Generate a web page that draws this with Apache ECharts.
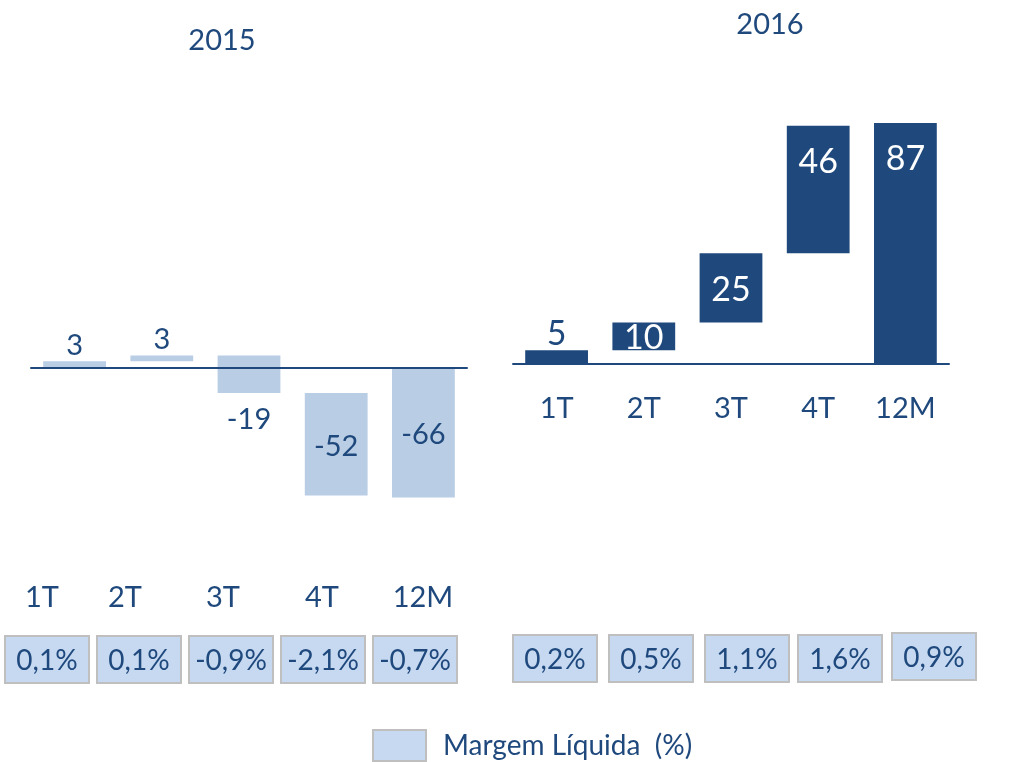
<!DOCTYPE html>
<html>
<head>
<meta charset="utf-8">
<script src="https://cdn.jsdelivr.net/npm/echarts@6/dist/echarts.min.js"></script>
<style>
html,body{margin:0;padding:0;background:#fff;}
#c{width:1017px;height:762px;}
</style>
</head>
<body>
<div id="c"></div>
<script>
// ---- data ----
const categories = ['1T', '2T', '3T', '4T', '12M'];
const years = ['2015', '2016'];
const values2015 = [3, 3, -19, -52, -66];
const values2016 = [5, 10, 25, 46, 87];
const margin2015 = [0.1, 0.1, -0.9, -2.1, -0.7];
const margin2016 = [0.2, 0.5, 1.1, 1.6, 0.9];
const legendName = 'Margem Líquida  (%)';

// ---- styles / layout ----
const DARK = '#1F497D';
const LIGHT = '#B9CDE5';
const BOX = '#C6D9F1';
const FONT = 'Lato';
const labelPlace2015 = ['above', 'above', 'below', 'middle', 'middle'];
const labelPlace2016 = ['above', 'middle', 'middle', 'top', 'top'];
const labelColor2015 = [DARK, DARK, DARK, DARK, DARK];
const labelColor2016 = [DARK, '#fff', '#fff', '#fff', '#fff'];
const cat2015X = [42, 125, 223, 322, 423];
const box2015X = [5, 97, 189, 281, 373];
const box2016X = [513, 609, 705, 798, 892];
const box2016Y = [635, 635, 635, 635, 633];

// waterfall: quarters accumulate, last category is the total from 0
function waterfall(vals) {
  const out = [];
  let acc = 0;
  vals.forEach((v, i) => {
    if (i === vals.length - 1) {
      out.push([i, 0, v]);
    } else {
      out.push([i, acc, acc + v]);
      acc += v;
    }
  });
  return out;
}

function makeRender(color, places, labelColors, fontSize, vals) {
  return function (params, api) {
    const i = api.value(0), s = api.value(1), e = api.value(2);
    const p1 = api.coord([i, s]);
    const p2 = api.coord([i, e]);
    const w = api.size([1, 0])[0] * 0.72;
    const top = Math.min(p1[1], p2[1]);
    const bot = Math.max(p1[1], p2[1]);
    const place = places[i];
    let ty;
    if (place === 'above') ty = top - 16;
    else if (place === 'below') ty = bot + 27;
    else if (place === 'top') ty = top + 36;
    else ty = (top + bot) / 2 + 2;
    return {
      type: 'group',
      children: [
        { type: 'rect', shape: { x: p1[0] - w / 2, y: top, width: w, height: bot - top }, style: { fill: color } },
        { type: 'text', z2: 10, style: { text: String(vals[i]), x: p1[0], y: ty, fill: labelColors[i], fontSize: fontSize, fontFamily: FONT, align: 'center', verticalAlign: 'middle' } }
      ]
    };
  };
}

function fmtPct(v) { return v.toFixed(1).replace('.', ',') + '%'; }

const graphics = [];
categories.forEach((c, i) => {
  graphics.push({ type: 'text', x: cat2015X[i], y: 598, style: { text: c, fill: DARK, fontSize: 29, fontFamily: FONT, align: 'center', verticalAlign: 'middle' } });
});
function boxes(xs, ys, vals) {
  vals.forEach((v, i) => {
    graphics.push({
      type: 'group', x: xs[i], y: ys[i],
      children: [
        { type: 'rect', shape: { x: 0, y: 0, width: 84, height: 47 }, style: { fill: BOX, stroke: '#BFBFBF', lineWidth: 2 } },
        { type: 'text', style: { text: fmtPct(v), x: 42, y: 25, fill: DARK, fontSize: 28, fontFamily: FONT, align: 'center', verticalAlign: 'middle' } }
      ]
    });
  });
}
boxes(box2015X, [636, 636, 636, 636, 636], margin2015);
boxes(box2016X, box2016Y, margin2016);

const chart = echarts.init(document.getElementById('c'), null, { renderer: 'canvas' });
chart.setOption({
  animation: false,
  backgroundColor: '#fff',
  textStyle: { fontFamily: FONT },
  title: [
    { text: years[0], left: 217, top: 21, textAlign: 'center', textStyle: { color: DARK, fontSize: 29, fontWeight: 'normal', fontFamily: FONT } },
    { text: years[1], left: 765, top: 5, textAlign: 'center', textStyle: { color: DARK, fontSize: 29, fontWeight: 'normal', fontFamily: FONT } }
  ],
  legend: {
    left: 372, top: 729, padding: 0, itemWidth: 53, itemHeight: 31, icon: 'rect',
    data: [legendName],
    textStyle: { color: DARK, fontSize: 28, fontFamily: FONT, padding: [0, 0, 0, 12] }
  },
  grid: [
    { left: 31, width: 436, top: 249, height: 276 },
    { left: 513, width: 436, top: 87, height: 277 }
  ],
  xAxis: [
    { type: 'category', gridIndex: 0, data: categories, z: 5, axisLine: { onZero: true, lineStyle: { color: DARK, width: 2 } }, axisTick: { show: false }, axisLabel: { show: false }, splitLine: { show: false } },
    { type: 'category', gridIndex: 1, data: categories, z: 5, axisLine: { onZero: true, lineStyle: { color: DARK, width: 2 } }, axisTick: { show: false }, axisLabel: { color: DARK, fontSize: 29, fontFamily: FONT, margin: 30 }, splitLine: { show: false } }
  ],
  yAxis: [
    { type: 'value', gridIndex: 0, min: -80, max: 60, show: false, splitLine: { show: false } },
    { type: 'value', gridIndex: 1, min: 0, max: 100, show: false, splitLine: { show: false } }
  ],
  series: [
    { type: 'custom', name: '2015', xAxisIndex: 0, yAxisIndex: 0, renderItem: makeRender(LIGHT, labelPlace2015, labelColor2015, 29, values2015), data: waterfall(values2015), encode: { x: 0, y: [1, 2] } },
    { type: 'custom', name: '2016', xAxisIndex: 1, yAxisIndex: 1, renderItem: makeRender(DARK, labelPlace2016, labelColor2016, 34, values2016), data: waterfall(values2016), encode: { x: 0, y: [1, 2] } },
    { type: 'bar', name: legendName, xAxisIndex: 0, yAxisIndex: 0, data: [], itemStyle: { color: BOX, borderColor: '#BFBFBF', borderWidth: 2 } }
  ],
  graphic: graphics
});
</script>
</body>
</html>
